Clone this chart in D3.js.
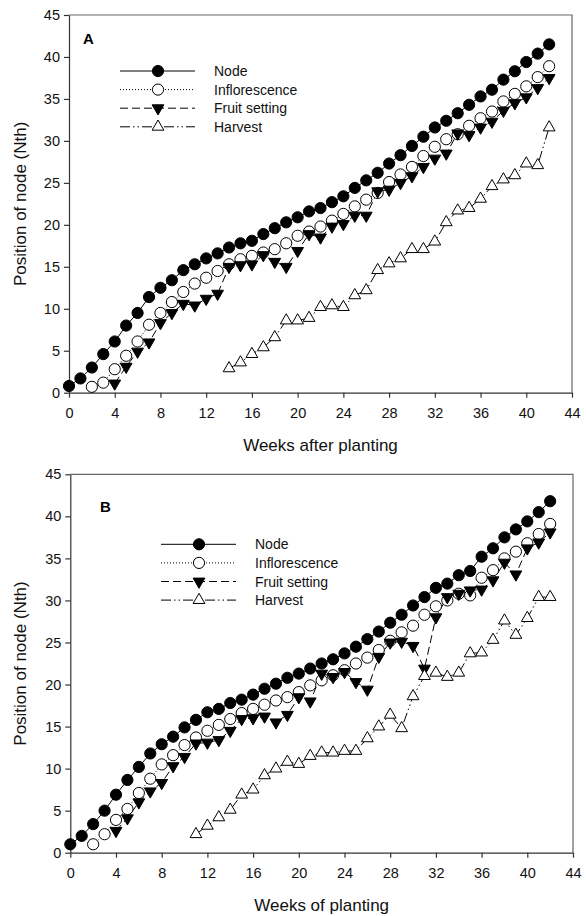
<!DOCTYPE html>
<html>
<head>
<meta charset="utf-8">
<script src="https://cdn.jsdelivr.net/npm/d3@7/dist/d3.min.js"></script>
<style>
  body { margin: 0; background: #fff; }
  svg text { font-family: "Liberation Sans", Arial, sans-serif; }
</style>
</head>
<body>
<div id="chart"></div>
<script>
// ---------- data ----------
var seriesNames = ["Node", "Inflorescence", "Fruit setting", "Harvest"];
var xTicks = [0, 4, 8, 12, 16, 20, 24, 28, 32, 36, 40, 44];
var yTicks = [0, 5, 10, 15, 20, 25, 30, 35, 40, 45];

// first week of each series
var startA = [0, 2, 4, 14];
var startB = [0, 2, 4, 11];

// Panel A
var nodeA = [0.8, 1.7, 3.0, 4.6, 6.1, 8.0, 9.5, 11.4, 12.5, 13.4, 14.6, 15.3, 16.0, 16.6, 17.3, 17.8, 18.1, 18.9, 19.6, 20.3, 20.9,
             21.6, 22.0, 22.7, 23.4, 24.4, 25.3, 26.2, 27.3, 28.3, 29.4, 30.5, 31.6, 32.4, 33.3, 34.3, 35.3, 36.1, 37.3, 38.3, 39.4, 40.4, 41.5];
var inflA = [0.7, 1.2, 2.8, 4.4, 6.1, 8.1, 9.5, 10.8, 12.0, 13.0, 13.7, 14.5, 15.3, 15.9, 16.3, 16.7, 17.1, 17.8, 18.7,
             19.2, 19.8, 20.5, 21.3, 22.2, 23.0, 23.8, 25.1, 26.0, 26.9, 28.2, 29.3, 30.2, 30.8, 31.8, 32.7, 33.5, 34.7, 35.6, 36.5, 37.6, 38.9];
var fruitA = [1.1, 3.1, 4.9, 6.0, 8.3, 9.5, 10.6, 10.4, 11.2, 11.8, 15.0, 15.2, 15.3, 16.4, 15.6, 15.0, 16.9,
              18.9, 18.5, 19.8, 20.1, 21.1, 21.1, 24.0, 24.2, 25.0, 25.8, 26.9, 27.9, 28.5, 30.9, 30.7, 31.6, 32.3, 33.6, 34.5, 35.2, 36.3, 37.5];
var harvestA = [2.9, 3.6, 4.6, 5.4, 6.6, 8.6, 8.6, 8.9, 10.2, 10.4, 10.2, 11.6, 12.2, 14.6, 15.4, 16.0, 17.1, 17.1,
                18.0, 20.3, 21.7, 22.0, 23.1, 24.6, 25.4, 25.9, 27.3, 27.1, 31.6];

// Panel B
var nodeB = [1.0, 2.0, 3.4, 5.0, 6.9, 8.65, 10.2, 11.8, 12.9, 13.8, 14.9, 15.8, 16.7, 17.1, 17.8, 18.2, 18.8, 19.5, 20.1, 20.8, 21.3,
             21.9, 22.5, 23.0, 23.7, 24.5, 25.4, 26.3, 27.35, 28.3, 29.4, 30.4, 31.5, 32.0, 33.0, 33.5, 35.2, 36.2, 37.5, 38.45, 39.4, 40.5, 41.8];
var inflB = [1.0, 2.2, 3.9, 5.2, 7.1, 8.8, 10.5, 11.6, 12.8, 13.7, 14.5, 15.2, 15.9, 16.6, 17.1, 17.6, 18.1, 18.5, 19.1,
             19.9, 20.5, 21.1, 21.7, 22.5, 23.2, 24.1, 25.2, 26.2, 27.0, 28.3, 29.3, 30.0, 30.8, 30.6, 32.7, 33.6, 35.0, 35.8, 36.8, 37.9, 39.1];
var fruitB = [2.6, 4.1, 6.0, 7.3, 8.3, 10.3, 11.4, 13.0, 13.1, 13.4, 14.5, 15.9, 16.0, 16.2, 15.5, 16.4, 18.5,
              18.0, 21.3, 20.9, 21.5, 20.3, 19.4, 23.3, 25.0, 25.1, 24.6, 21.9, 28.0, 30.4, 30.8, 31.2, 31.3, 32.4, 34.5, 33.1, 36.2, 36.9, 38.1];
var harvestB = [2.2, 3.2, 4.2, 5.1, 6.9, 7.5, 9.2, 10.0, 10.8, 10.55, 11.5, 11.9, 11.9, 12.1, 12.1, 13.6, 15.0, 16.4, 14.8,
                18.6, 21.0, 21.4, 20.9, 21.4, 23.7, 23.8, 25.3, 27.6, 25.9, 27.9, 30.4, 30.4];

// ---------- styles ----------
var styles = [
  {marker: "circle", fill: "#000", dash: null},
  {marker: "circle", fill: "#fff", dash: "1,2"},
  {marker: "down", fill: "#000", dash: "8,4"},
  {marker: "up", fill: "#fff", dash: "10,3,1.5,3,1.5,3"}
];

var width = 586, height = 916;
var svg = d3.select("#chart").append("svg")
    .attr("width", width)
    .attr("height", height);

var triPath = d3.symbol().type(d3.symbolTriangle).size(60)();

function drawMarker(sel, st) {
  if (st.marker == "circle") {
    sel.append("circle").attr("r", 5.6);
  } else {
    sel.append("path").attr("d", triPath)
       .attr("transform", st.marker == "down" ? "rotate(180)" : null);
  }
  sel.selectAll("circle, path")
     .attr("fill", st.fill)
     .attr("stroke", "#000")
     .attr("stroke-width", 1);
}

function drawPanel(p) {
  var g = svg.append("g");
  var x = d3.scaleLinear().domain([0, 44]).range([p.left, p.right]);
  var y = d3.scaleLinear().domain([0, 45]).range([p.bottom, p.top]);

  // top and right frame
  g.append("path")
   .attr("d", "M" + p.left + "," + p.top + "H" + p.right + "V" + p.bottom)
   .attr("fill", "none")
   .attr("stroke", "#666")
   .attr("stroke-width", 1.2);

  var xAxis = g.append("g")
      .attr("transform", "translate(0," + p.bottom + ")")
      .call(d3.axisBottom(x).tickValues(xTicks).tickSize(5).tickSizeOuter(0).tickPadding(10));
  var yAxis = g.append("g")
      .attr("transform", "translate(" + p.left + ",0)")
      .call(d3.axisLeft(y).tickValues(yTicks).tickSize(5).tickSizeOuter(0).tickPadding(4));

  [xAxis, yAxis].forEach(function(a) {
    a.attr("font-family", "Liberation Sans, Arial, sans-serif").attr("font-size", 14.5);
    a.select(".domain").attr("stroke", "#333").attr("stroke-width", 1.2);
    a.selectAll(".tick line").attr("stroke", "#333").attr("stroke-width", 1.2);
    a.selectAll(".tick text").attr("fill", "#111");
  });

  // axis titles
  g.append("text")
   .attr("x", (p.left + p.right) / 2)
   .attr("y", p.xTitleY)
   .attr("text-anchor", "middle")
   .attr("font-size", 17)
   .attr("fill", "#111")
   .text(p.xTitle);
  g.append("text")
   .attr("transform", "translate(26," + ((p.top + p.bottom) / 2) + ") rotate(-90)")
   .attr("text-anchor", "middle")
   .attr("font-size", 17)
   .attr("fill", "#111")
   .text("Position of node (Nth)");

  // panel letter
  g.append("text")
   .attr("x", p.labelX)
   .attr("y", p.labelY)
   .attr("font-size", 15)
   .attr("font-weight", "bold")
   .text(p.label);

  var line = d3.line()
      .x(function(d) { return x(d.w); })
      .y(function(d) { return y(d.v); });

  var sets = p.series.map(function(vals, k) {
    return vals.map(function(v, i) { return {w: p.start[k] + i, v: v}; });
  });

  // lines
  sets.forEach(function(pts, k) {
    g.append("path")
     .attr("d", line(pts))
     .attr("fill", "none")
     .attr("stroke", "#000")
     .attr("stroke-width", 1)
     .attr("stroke-dasharray", styles[k].dash);
  });

  // markers
  sets.forEach(function(pts, k) {
    g.append("g").selectAll("g")
     .data(pts)
     .enter().append("g")
     .attr("transform", function(d) { return "translate(" + x(d.w) + "," + y(d.v) + ")"; })
     .each(function() { drawMarker(d3.select(this), styles[k]); });
  });

  // legend
  var lg = g.append("g");
  seriesNames.forEach(function(name, k) {
    var ly = p.legY + k * 18.6;
    lg.append("line")
      .attr("x1", p.legX).attr("x2", p.legX + 75)
      .attr("y1", ly).attr("y2", ly)
      .attr("stroke", "#000").attr("stroke-width", 1)
      .attr("stroke-dasharray", styles[k].dash);
    var m = lg.append("g").attr("transform", "translate(" + (p.legX + 38) + "," + ly + ")");
    drawMarker(m, styles[k]);
    lg.append("text")
      .attr("x", p.legX + 94)
      .attr("y", ly + 5)
      .attr("font-size", 14)
      .attr("fill", "#111")
      .text(name);
  });
}

drawPanel({
  left: 69, right: 572, top: 15, bottom: 392.7,
  series: [nodeA, inflA, fruitA, harvestA], start: startA,
  xTitle: "Weeks after planting", xTitleY: 451,
  label: "A", labelX: 83, labelY: 43.5,
  legX: 120, legY: 71
});

drawPanel({
  left: 70.3, right: 573, top: 474.3, bottom: 852.7,
  series: [nodeB, inflB, fruitB, harvestB], start: startB,
  xTitle: "Weeks of planting", xTitleY: 911,
  label: "B", labelX: 100, labelY: 512,
  legX: 161, legY: 544.3
});
</script>
</body>
</html>
